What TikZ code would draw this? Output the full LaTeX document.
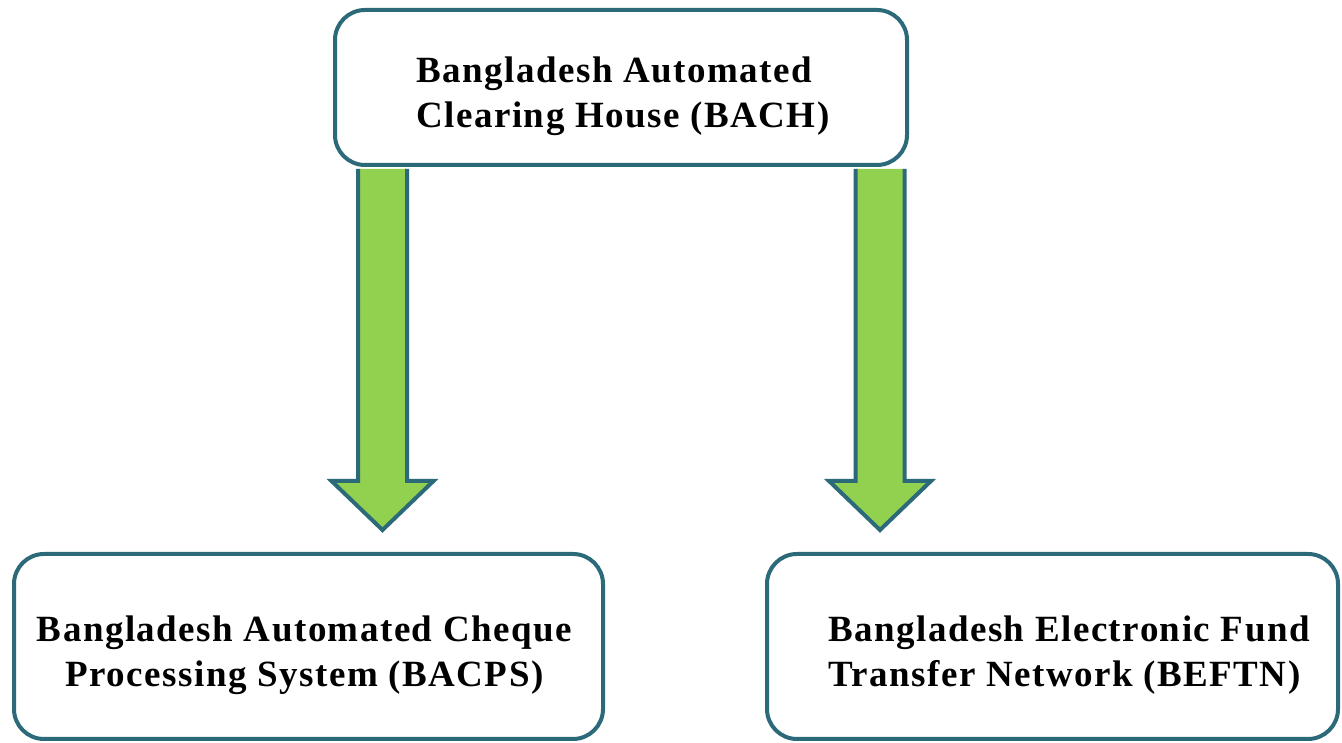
\documentclass[tikz,border=0pt]{standalone}
\usepackage{fontspec}
\setmainfont{Liberation Serif}
\newfontfamily\boxfont[LetterSpace=4]{Liberation Serif}
\usetikzlibrary{calc}
\definecolor{tealline}{RGB}{44,106,122}
\definecolor{arrowgreen}{RGB}{146,208,80}

\tikzset{
    box/.style={draw=tealline, line width=4pt, rounded corners=30pt, fill=white, inner sep=0pt},
    boxtext/.style={font=\fontsize{37}{45}\selectfont\boxfont\bfseries, inner sep=0pt},
    blockarrow/.style={draw=tealline, fill=arrowgreen, line width=4pt, line join=miter}
}

\newcommand{\blockdown}[2]{%
    \draw[blockarrow] let \p1=(#1), \p2=(#2) in
        (\x1-24.5,\y1-2) -- (\x1-24.5,\y2+49) -- (\x1-51,\y2+49) -- (\x1,\y2)
        -- (\x1+51,\y2+49) -- (\x1+24.5,\y2+49) -- (\x1+24.5,\y1-2);
}

\begin{document}
\begin{tikzpicture}[x=1pt, y=1pt]
    \useasboundingbox (0,0) rectangle (1342,743);
    \node[box, minimum width=572, minimum height=155] (bach) at (621,655.5) {};
    \node[box, minimum width=589, minimum height=185] (bacps) at (308.5,96.5) {};
    \node[box, minimum width=571, minimum height=185] (beftn) at (1052.5,96.5) {};

    \coordinate (bachleft) at ([xshift=-238.5]bach.south);
    \coordinate (bachright) at ([xshift=259]bach.south);
    \coordinate (bacpstip) at ($(bachleft |- bacps.north)+(0,22)$);
    \coordinate (beftntip) at ($(bachright |- beftn.north)+(0,22)$);
    \blockdown{bachleft}{bacpstip}
    \blockdown{bachright}{beftntip}

    \node[boxtext, align=left] (bachtext) at ([xshift=2,yshift=-9]bach.center) {Bangladesh Automated\\Clearing House (BACH)};
    \node[boxtext, align=center] (bacpstext) at ([xshift=-4,yshift=-9]bacps.center) {Bangladesh Automated Cheque\\Processing System (BACPS)};
    \node[boxtext, align=left, anchor=west] (beftntext) at ([xshift=63,yshift=-9]beftn.west) {Bangladesh Electronic Fund\\Transfer Network (BEFTN)};
\end{tikzpicture}
\end{document}
